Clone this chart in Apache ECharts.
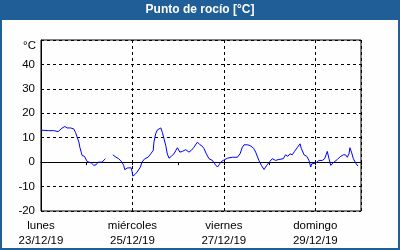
<!DOCTYPE html>
<html>
<head>
<meta charset="utf-8">
<script src="https://cdn.jsdelivr.net/npm/echarts@6/dist/echarts.min.js"></script>
<style>
html,body{margin:0;padding:0;background:#fdfefd;}
#c{width:400px;height:250px;}
</style>
</head>
<body>
<div id="c"></div>
<script>
var chartTitle = 'Punto de rocío [°C]';
var unitLabel = '°C';
var dayTickHours = [0, 48, 96, 144];
var dayNames = ['lunes', 'miércoles', 'viernes', 'domingo'];
var dayDates = ['23/12/19', '25/12/19', '27/12/19', '29/12/19'];
var yTicks = [-20, -10, 0, 10, 20, 30, 40];

var hours = [0,4.1,6.7,7.5,9,11,12.5,13.7,14.6,15.5,16.3,17.2,18.1,19,19.9,20.4,21.1,21.6,22.8,24.2,25.1,26.5,27.7,28.2,28.9,30,32,32.9,33.8,
  35.5,
  37.7,39.4,40.8,42.5,43.4,44,45.2,46.1,47.3,47.8,48.2,49.3,50.4,52.2,53,54.5,56.2,
  57.6,58.4,58.9,59.3,60.2,61.1,61.9,62.9,63.7,64.6,65.5,66.3,67.2,68.4,69.8,71.6,72.9,74.2,76,76.8,77.7,78.9,80.3,82.1,83.5,84.7,85.6,86.8,88.2,90,91.2,92.6,93.5,94.3,95.7,97.8,100.5,103.1,104.5,105.7,106.6,108.4,109.7,110.6,
  111.6,112.7,114.4,115.7,117.1,118.5,120.2,121.4,123.2,124.9,127.2,128.4,129.6,130.7,131.9,133.1,134.5,136,136.7,138.1,139.5,140.7,141.6,142.1,143,144.2,145.9,147.7,148.9,150.3,151.2,152.1,153.8,155.6,157,158.7,159.9,160.8,161.7,162.2,163,164,165.2,166.4];
var dewPoint = [13.1,12.9,12.9,12.7,12.5,13.9,14.6,14.0,14.6,14.0,14.3,13.6,12.2,10.2,8.2,6.1,4.1,2.7,2.4,0.3,-0.4,-0.4,-1.3,-2.0,-1.1,0,0,0.3,1.4,
  null,
  3.0,2.0,1.4,0,-1.3,-3.1,-2.4,-2.3,-2.3,-3.8,-5.7,-5.1,-4.1,-2.0,0,1.4,2.0,
  3.4,3.8,4.8,8.2,11.6,13.2,13.6,14.0,12.2,9.5,6.8,3.4,1.6,2.4,3.4,5.9,4.1,4.4,5.1,5.1,4.1,4.8,6.1,8.2,7.1,6.5,5.5,3.4,1.4,0.7,-0.7,-2.0,-1.1,0,0.7,1.6,2.0,2.0,3.4,6.1,7.1,7.1,6.8,7.3,
  5.7,4.1,0.7,-1.3,-3.0,-1.3,0.3,1.4,0.7,1.1,1.4,3.0,2.4,3.4,3.0,4.4,5.9,7.5,5.5,3.0,2.4,0.7,-2.0,-0.7,-1.1,-0.4,0.7,0.7,1.4,4.4,1.4,-1.3,0,1.1,2.2,3.0,3.0,2.0,3.4,5.9,4.1,1.4,-0.4,-1.6];

var seriesData = hours.map(function (h, i) { return [h, dewPoint[i]]; });
var font = 'Liberation Sans, Arial, sans-serif';

var chart = echarts.init(document.getElementById('c'), null, {renderer: 'canvas'});
chart.setOption({
  animation: false,
  backgroundColor: '#fdfefd',
  grid: {left: 41, right: 39, top: 40, bottom: 39, show: true, borderColor: '#000', borderWidth: 1, backgroundColor: 'transparent'},
  graphic: [
    {type: 'rect', shape: {x: 0, y: 0, width: 400, height: 20}, style: {fill: '#1f5e97'}, silent: true},
    {type: 'rect', shape: {x: 0, y: 0, width: 2, height: 250}, style: {fill: '#1f5e97'}, silent: true},
    {type: 'rect', shape: {x: 398, y: 0, width: 2, height: 250}, style: {fill: '#1f5e97'}, silent: true},
    {type: 'rect', shape: {x: 0, y: 248, width: 400, height: 2}, style: {fill: '#1f5e97'}, silent: true},
    {type: 'text', x: 200, y: 10, style: {text: chartTitle, fill: '#fff', font: 'bold 12px ' + font, align: 'center', verticalAlign: 'middle'}, silent: true},
    {type: 'text', x: 36, y: 46, style: {text: unitLabel, fill: '#000', font: '11.5px ' + font, align: 'right', verticalAlign: 'middle'}, silent: true}
  ],
  xAxis: [
    {
      type: 'value', min: 0, max: 168, interval: 24,
      axisLine: {show: true, lineStyle: {color: '#000', width: 1}},
      axisTick: {show: true, length: 3, lineStyle: {color: '#000'}},
      splitLine: {show: false},
      axisLabel: {
        color: '#000', fontFamily: font, fontSize: 11.5, margin: 8, lineHeight: 14.5,
        showMinLabel: true, showMaxLabel: true, hideOverlap: false,
        formatter: function (v) {
          var i = dayTickHours.indexOf(v);
          return i >= 0 ? dayNames[i] + '\n' + dayDates[i] : '';
        }
      }
    },
    {
      type: 'value', min: 0, max: 168, interval: 48, position: 'bottom',
      axisLine: {show: false}, axisTick: {show: false}, axisLabel: {show: false},
      splitLine: {show: true, lineStyle: {color: '#000', type: [3, 3], width: 1}}
    }
  ],
  yAxis: {
    type: 'value', min: -20, max: 50, interval: 10,
    axisLine: {show: true, lineStyle: {color: '#000'}},
    axisTick: {show: false},
    splitLine: {show: true, lineStyle: {color: '#000', type: [3, 3], width: 1}},
    axisLabel: {
      color: '#000', fontFamily: font, fontSize: 11.5, margin: 6,
      showMinLabel: true, showMaxLabel: true,
      formatter: function (v) { return yTicks.indexOf(v) >= 0 ? String(v) : ''; }
    }
  },
  series: [{
    type: 'line', xAxisIndex: 0, data: seriesData, showSymbol: false, symbol: 'none',
    connectNulls: false,
    lineStyle: {color: '#0000ff', width: 1}
  }]
});
</script>
</body>
</html>
